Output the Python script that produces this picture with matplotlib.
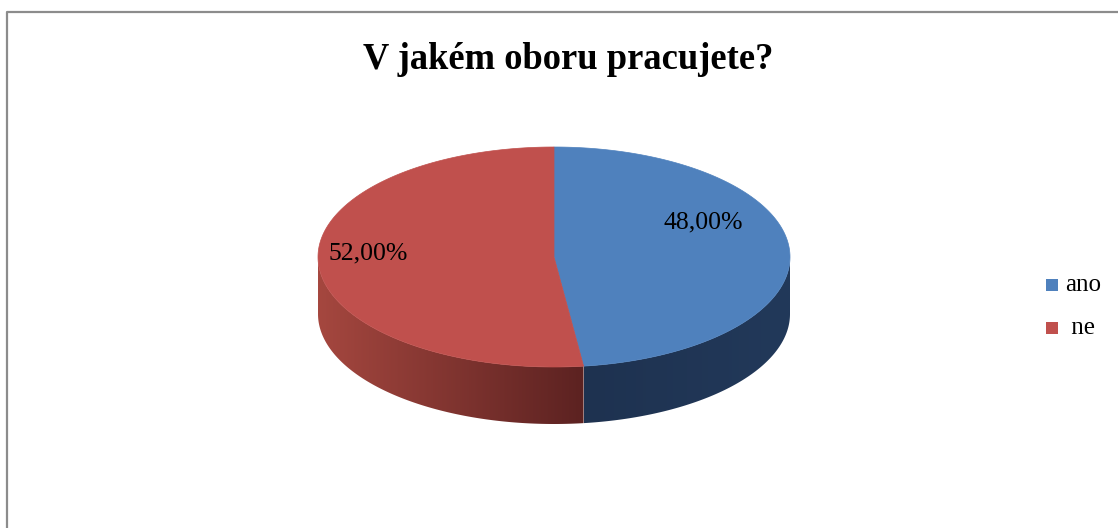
"""Survey chart: 3D-style pie of the answer shares."""

import matplotlib

matplotlib.use("Agg")
import matplotlib.pyplot as plt
import numpy as np
from matplotlib.colors import to_rgb
from matplotlib.patches import Polygon, Rectangle

title = "V jakém oboru pracujete?"
categories = ["ano", " ne"]
shares = [48.0, 52.0]

top_colors = ["#4f81bd", "#c0504d"]
# side gradient per slice: (colour at front seam, colour at far end)
side_colors = [("#1e3250", "#22395a"), ("#5c2221", "#a5473f")]

# pie geometry in pixels (y grows downward)
CX, CY = 554, 257
RX, RY = 236, 110
DEPTH = 57
label_xy = [(703, 222), (368, 253)]


def ellipse_pt(theta_deg, dy=0.0):
    t = np.radians(theta_deg)
    return CX + RX * np.cos(t), CY + RY * np.sin(t) + dy


fig = plt.figure(figsize=(11.18, 5.28), dpi=100)
ax = fig.add_axes([0, 0, 1, 1])
ax.set_xlim(0, 1118)
ax.set_ylim(528, 0)
ax.axis("off")

# frame (only left and top edges are visible in the crop)
ax.plot([7, 7, 1118], [528, 12, 12], color="#8c8c8c", lw=1.6, solid_capstyle="butt")

fracs = np.array(shares) / sum(shares)
bounds = -90 + 360 * np.concatenate([[0], np.cumsum(fracs)])

# sides first (only the front half, 0..180 deg, is visible)
for i in range(len(shares)):
    lo, hi = max(bounds[i], 0), min(bounds[i + 1], 180)
    if hi <= lo:
        continue
    arc = np.linspace(lo, hi, 200)
    top = [ellipse_pt(a) for a in arc]
    bot = [ellipse_pt(a, DEPTH) for a in arc[::-1]]
    side = Polygon(top + bot, closed=True, facecolor="none", edgecolor="none")
    ax.add_patch(side)

    xs = [p[0] for p in top]
    x0, x1 = min(xs), max(xs)
    seam_x = ellipse_pt(bounds[i + 1] if bounds[i + 1] < 180 else bounds[i])[0]
    far_x = x0 if abs(seam_x - x1) < abs(seam_x - x0) else x1
    gx = np.linspace(x0, x1, 256)
    f = np.clip(np.abs(gx - seam_x) / abs(far_x - seam_x), 0, 1)[None, :, None]
    c_seam = np.array(to_rgb(side_colors[i][0]))
    c_far = np.array(to_rgb(side_colors[i][1]))
    grad = c_seam + (c_far - c_seam) * f
    ytop = CY - 2
    ybot = CY + RY + DEPTH + 2
    im = ax.imshow(grad, extent=(x0, x1, ybot, ytop), aspect="auto",
                   interpolation="bilinear", zorder=1)
    im.set_clip_path(side)

# top faces
for i in range(len(shares)):
    arc = np.linspace(bounds[i], bounds[i + 1], 200)
    pts = [(CX, CY)] + [ellipse_pt(a) for a in arc]
    ax.add_patch(Polygon(pts, closed=True, facecolor=top_colors[i],
                         edgecolor=top_colors[i], lw=0.5, zorder=2))

ax.set_xlim(0, 1118)
ax.set_ylim(528, 0)

# data labels
for (x, y), v in zip(label_xy, shares):
    ax.text(x, y, f"{v:.2f}%".replace(".", ","), ha="center", va="center",
            fontsize=18.5, family="Liberation Serif", color="black", zorder=3)

ax.text(568, 69, title, ha="center", va="baseline", fontsize=26.3,
        fontweight="bold", family="Liberation Serif")

# legend
for k, (name, col) in enumerate(zip(categories, top_colors)):
    y = 285 + 43 * k
    ax.add_patch(Rectangle((1046, y - 6), 12, 12, facecolor=col, edgecolor="none"))
    ax.text(1065, y, name, ha="left", va="center", fontsize=18,
            family="Liberation Serif")

fig.savefig("out.png", dpi=100)
